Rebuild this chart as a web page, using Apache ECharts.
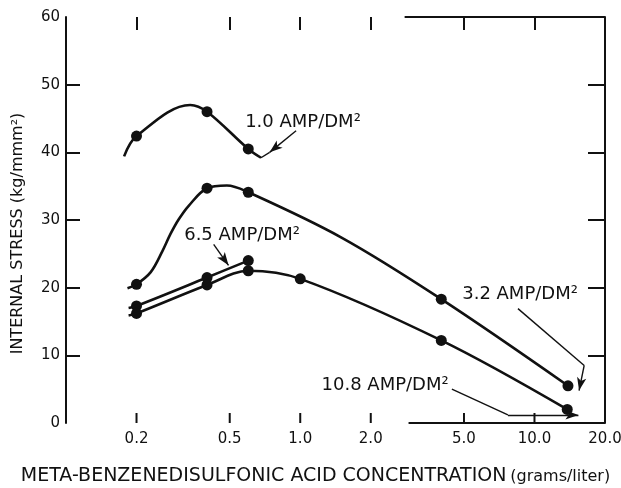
<!DOCTYPE html>
<html>
<head>
<meta charset="utf-8">
<script src="https://cdn.jsdelivr.net/npm/echarts@6/dist/echarts.min.js"></script>
<style>
  html, body { margin: 0; padding: 0; background: #fff; }
  #chart { width: 621px; height: 488px; }
</style>
</head>
<body>
<div id="chart"></div>
<script>
// concentration in g/l (log scale), stress in kg/mm2
const xTicks = [0.2, 0.5, 1, 2, 5, 10];
const xLabels = [0.2, 0.5, 1, 2, 5, 10, 20];
const yTicks = [10, 20, 30, 40, 50];

// 1.0 AMP/DM2
const curve10 = [[0.177, 39.4], [0.2, 42.4], [0.339, 47.0], [0.4, 46.0], [0.6, 40.5], [0.68, 39.2]];
const dots10 = [[0.2, 42.4], [0.4, 46.0], [0.6, 40.5]];

// 3.2 AMP/DM2
const curve32 = [[0.183, 19.9], [0.2, 20.5], [0.23, 22.3], [0.258, 25.4], [0.279, 27.9], [0.303, 30.1],
  [0.334, 32.1], [0.4, 34.7], [0.486, 35.1], [0.6, 34.1], [1.5, 27.4], [4.0, 18.3], [13.9, 5.5]];
const dots32 = [[0.2, 20.5], [0.4, 34.7], [0.6, 34.1], [4.0, 18.3], [13.9, 5.5]];

// 6.5 AMP/DM2
const curve65 = [[0.185, 17.0], [0.2, 17.3], [0.4, 21.5], [0.6, 24.0]];
const dots65 = [[0.2, 17.3], [0.4, 21.5], [0.6, 24.0]];

// 10.8 AMP/DM2
const curve108 = [[0.185, 15.9], [0.2, 16.2], [0.4, 20.4], [0.6, 22.5], [1.0, 21.3], [4.0, 12.2], [13.8, 2.0]];
const dots108 = [[0.2, 16.2], [0.4, 20.4], [0.6, 22.5], [1.0, 21.3], [4.0, 12.2], [13.8, 2.0]];

const ink = '#111';
const font = 'DejaVu Sans';

// curve labels and their pointer arrows (data coordinates)
const notes = [
  { name: '1.0 AMP/DM²', coord: [0.579, 44.5] },
  { name: '6.5 AMP/DM²', coord: [0.318, 27.7] },
  { name: '3.2 AMP/DM²', coord: [4.89, 19.05] },
  { name: '10.8 AMP/DM²', coord: [1.227, 5.5] }
];
const seg = (a, b, arrow) => [
  { coord: a, symbol: 'none' },
  { coord: b, symbol: arrow ? 'arrow' : 'none', symbolSize: [7, 13] }
];
const pointers = [
  seg([0.96, 43.2], [0.74, 40.0], true),
  seg([0.74, 40.0], [0.68, 39.2], false),
  seg([0.427, 26.4], [0.494, 23.3], true),
  seg([8.5, 16.9], [16.3, 8.5], false),
  seg([16.3, 8.5], [15.5, 4.8], true),
  seg([4.44, 5.0], [7.7, 1.2], false),
  seg([7.7, 1.2], [15.4, 1.2], true)
];
// pieces of the frame that survive on the original
const frame = [
  seg([2.79, 60], [20, 60], false),
  seg([2.9, 0], [20, 0], false)
];

const chart = echarts.init(document.getElementById('chart'));

const lineSeries = (data) => ({
  type: 'line', data: data, smooth: 0.35, showSymbol: false, silent: true,
  lineStyle: { color: ink, width: 2.6 }
});
const dotSeries = (data) => ({
  type: 'scatter', data: data, symbolSize: 11, silent: true,
  itemStyle: { color: ink, opacity: 1 }
});

const xCommon = {
  type: 'log', logBase: 10, min: 0.1, max: 20,
  axisLine: { show: false, onZero: false },
  splitLine: { show: false },
  minorTick: { show: false }
};
const yCommon = {
  type: 'value', min: 0, max: 60, interval: 10,
  axisLine: { show: true, onZero: false, lineStyle: { color: ink, width: 2 } },
  splitLine: { show: false }
};

const first = lineSeries(curve10);
first.markLine = {
  silent: true, animation: false,
  symbol: 'none',
  label: { show: false },
  lineStyle: { color: ink, width: 1.4, type: 'solid' },
  emphasis: { disabled: true },
  data: pointers
};
first.markPoint = {
  silent: true, animation: false,
  symbol: 'circle', symbolSize: 1,
  itemStyle: { color: 'rgba(0,0,0,0)' },
  label: { show: true, position: 'right', distance: 0, formatter: '{b}',
    color: ink, fontFamily: font, fontSize: 18 },
  data: notes
};
const second = lineSeries(curve32);
second.markLine = {
  silent: true, animation: false,
  symbol: 'none',
  label: { show: false },
  lineStyle: { color: ink, width: 2, type: 'solid' },
  emphasis: { disabled: true },
  data: frame
};

chart.setOption({
  animation: false,
  backgroundColor: '#fff',
  grid: { left: 66, right: 16, top: 17, bottom: 65, containLabel: false, outerBoundsMode: 'none' },
  xAxis: [
    Object.assign({}, xCommon, {
      position: 'bottom',
      axisTick: { show: false },
      axisLabel: { customValues: xLabels, margin: 9, color: ink, fontFamily: font, fontSize: 15,
        formatter: (v) => Number(v).toFixed(1) },
      name: '{a|META-BENZENEDISULFONIC ACID CONCENTRATION} {b|(grams/liter)}',
      nameLocation: 'middle', nameGap: 44,
      nameTextStyle: { color: ink, fontFamily: font, padding: [0, 40, 0, 0],
        rich: { a: { fontSize: 19, fontFamily: font, color: ink }, b: { fontSize: 16, fontFamily: font, color: ink } } }
    }),
    Object.assign({}, xCommon, {
      position: 'top',
      axisTick: { show: true, inside: true, length: 13, customValues: xTicks,
        lineStyle: { color: ink, width: 2 } },
      axisLabel: { show: false }
    })
  ],
  yAxis: [
    Object.assign({}, yCommon, {
      position: 'left',
      axisTick: { show: true, inside: true, length: 14, customValues: yTicks,
        lineStyle: { color: ink, width: 2 } },
      axisLabel: { margin: 6, color: ink, fontFamily: font, fontSize: 15 },
      name: 'INTERNAL STRESS (kg/mmm²)',
      nameLocation: 'middle', nameRotate: 90, nameGap: 40,
      nameTextStyle: { color: ink, fontFamily: font, fontSize: 16, padding: [0, 27, 0, 0] }
    }),
    Object.assign({}, yCommon, {
      position: 'right',
      axisTick: { show: true, inside: true, length: 17, customValues: yTicks,
        lineStyle: { color: ink, width: 2 } },
      axisLabel: { show: false }
    })
  ],
  series: [
    first,
    second,
    lineSeries(curve65),
    lineSeries(curve108),
    dotSeries(dots10),
    dotSeries(dots32),
    dotSeries(dots65),
    dotSeries(dots108),
    // short upright ticks standing on the bottom edge
    { type: 'scatter', data: xTicks.map((v) => [v, 0]), symbol: 'rect', symbolSize: [2, 10],
      symbolOffset: [0, -5], clip: false, silent: true, itemStyle: { color: ink, opacity: 1 } },
    // invisible series so the top tick axis shares the scale
    { type: 'line', xAxisIndex: 1, data: [[0.2, 0]], showSymbol: false, silent: true,
      lineStyle: { opacity: 0 } }
  ]
});
</script>
</body>
</html>
